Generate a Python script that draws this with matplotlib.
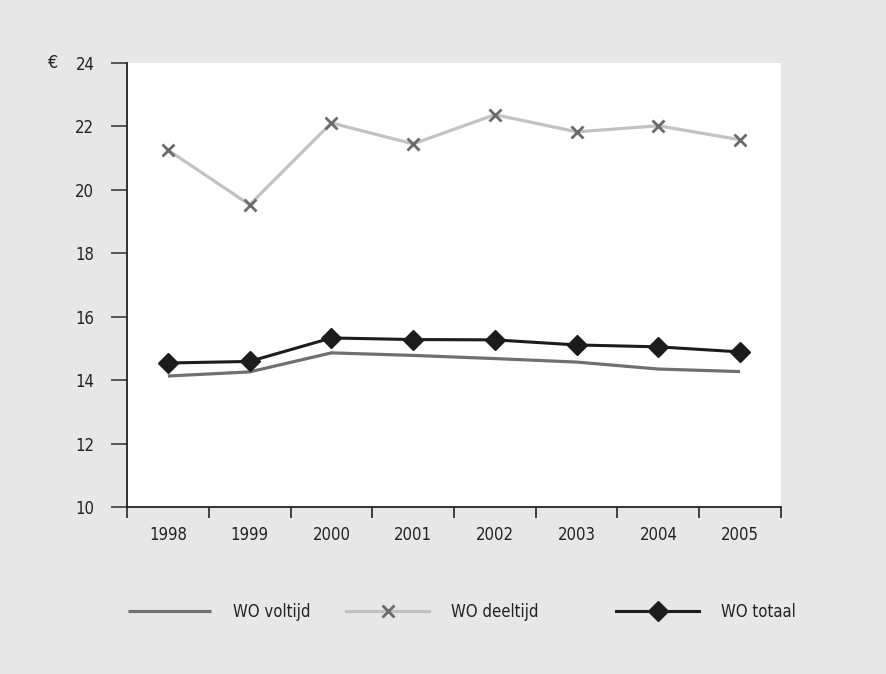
import matplotlib
matplotlib.use("Agg")
import matplotlib.pyplot as plt
import numpy as np

plt.rcParams['font.family'] = ['DejaVu Sans']
plt.rcParams['font.stretch'] = 'condensed'

# data
years = ['1998', '1999', '2000', '2001', '2002', '2003', '2004', '2005']
wo_voltijd = [14.13, 14.26, 14.86, 14.78, 14.68, 14.57, 14.35, 14.27]
wo_deeltijd = [21.26, 19.53, 22.11, 21.45, 22.37, 21.83, 22.02, 21.58]
wo_totaal = [14.54, 14.59, 15.33, 15.28, 15.27, 15.11, 15.05, 14.89]
yticks = [10, 12, 14, 16, 18, 20, 22, 24]

bg = '#e6e7e6'
fig = plt.figure(figsize=(8.87, 6.74), dpi=100, facecolor=bg)
ax = fig.add_axes([127 / 887, 1 - 507 / 674, 654 / 887, 444 / 674])
ax.set_facecolor('white')

x = np.arange(len(years)) + 0.5
l1, = ax.plot(x, wo_voltijd, color='#707070', lw=2.3, solid_capstyle='butt', zorder=2)
l2, = ax.plot(x, wo_deeltijd, color='#c2c2c2', lw=2.3, marker='x', ms=9,
              mec='#6a6a6a', mew=2.0, zorder=2)
l3, = ax.plot(x, wo_totaal, color='#1c1c1c', lw=2.2, marker='D', ms=10,
              mfc='#1c1c1c', mec='#1c1c1c', zorder=3)

ax.set_xlim(0, len(years))
ax.set_ylim(10, 24)
ax.set_yticks(yticks)
ax.set_xticks(np.arange(len(years) + 1))
ax.set_xticklabels([])
ax.set_xticks(x, minor=True)
ax.set_xticklabels(years, minor=True)

for s in ['top', 'right']:
    ax.spines[s].set_visible(False)
for s in ['left', 'bottom']:
    ax.spines[s].set_color('#222222')
    ax.spines[s].set_linewidth(1.3)

ax.tick_params(axis='y', direction='out', length=11.5, width=1.3, color='#4a4a4a',
               pad=12, labelsize=12, labelcolor='#222222')
ax.tick_params(axis='x', which='major', direction='out', length=8, width=1.3,
               color='#333333')
ax.tick_params(axis='x', which='minor', length=0, pad=14, labelsize=12,
               labelcolor='#222222')

fig.text(52 / 887, 1 - 63 / 674, '€', fontsize=13, color='#222222',
         ha='center', va='center')

# legend, three separate entries like the reference
items = [(l1, 'WO voltijd', 128), (l2, 'WO deeltijd', 346), (l3, 'WO totaal', 616)]
for h, lab, px in items:
    leg = fig.legend([h], [lab], loc='center left',
                     bbox_to_anchor=(px / 887, 1 - 612 / 674),
                     frameon=False, fontsize=12, handlelength=5.0,
                     handletextpad=1.3, borderpad=0, borderaxespad=0)
    for t in leg.get_texts():
        t.set_color('#222222')

fig.savefig('out.png', dpi=100, facecolor=bg)
